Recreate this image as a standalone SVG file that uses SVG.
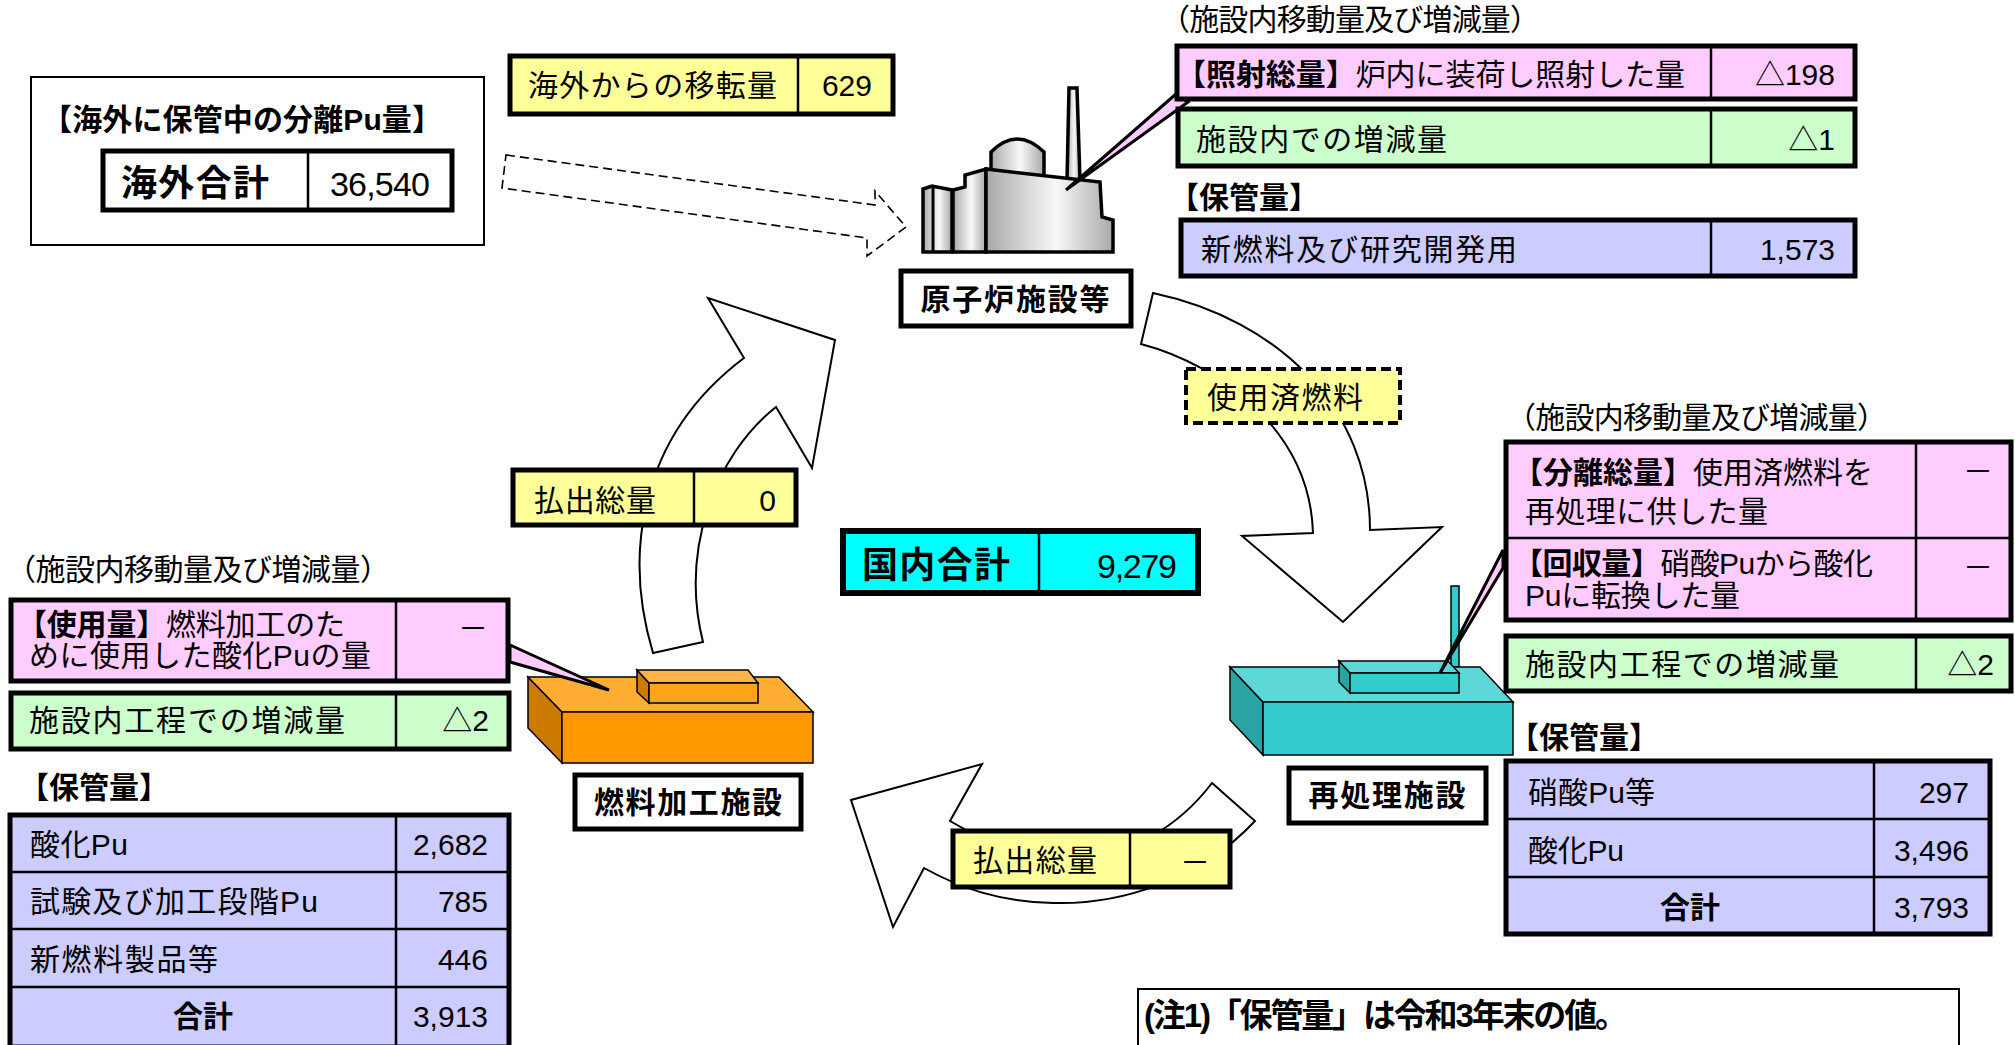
<svg xmlns="http://www.w3.org/2000/svg" width="2015" height="1045" viewBox="0 0 2015 1045">
<defs>
<style>
.t{font-family:"Liberation Sans","Noto Sans CJK JP",sans-serif;font-size:30px;fill:#000}
.b{font-weight:bold}
.e{text-anchor:end}
.m{text-anchor:middle}
.big{font-size:36px}
.num{font-size:34px}
.thick{stroke:#000;stroke-width:5}
.thin{stroke:#000;stroke-width:2.5;fill:none}
.arrow{fill:#fff;stroke:#000;stroke-width:2}
.blk{stroke:#000;stroke-width:1.5}
.bld{stroke:#000;stroke-width:3.5;fill:url(#gr)}
.wedge{stroke:#000;stroke-width:3;fill:#FFCCFF}
.pink{fill:#FFCCFF}
.green{fill:#CCFFCC}
.blue{fill:#CCCCFF}
.yellow{fill:#FFFF99}
.lbl{fill:#fff;stroke:#000;stroke-width:5}
</style>
<linearGradient id="gr" x1="0" y1="0" x2="1" y2="0">
<stop offset="0" stop-color="#a8a8a8"/>
<stop offset="0.55" stop-color="#f8f8f8"/>
<stop offset="1" stop-color="#a8a8a8"/>
</linearGradient>
</defs>
<rect width="2015" height="1045" fill="#fff"/>

<g id="connectors">
<path class="arrow" d="M653,653 C625,560 635,440 744,358 L708,298 L835,340 L812,468 L776,407 C715,455 680,550 703,642 Z"/>
<path class="arrow" d="M1153,293 C1280,320 1370,410 1370,530 L1442,527 L1343,622 L1242,536 L1313,533 C1310,430 1220,365 1141,344 Z"/>
<path class="arrow" d="M1255,821 C1200,880 1120,905 1053,903 C1000,902 960,888 924,868 L893,927 L851,800 L982,764 L950,821 C990,845 1030,858 1070,858 C1130,858 1180,825 1212,783 Z"/>
<path d="M506,155 L875,205 L875,191 L906,227 L867,256 L867,238 L502,188 Z" fill="none" stroke="#000" stroke-width="1.6" stroke-dasharray="9,5"/>
</g>

<g id="reactor">
<polygon class="bld" points="1069,88 1077,88 1080,180 1067,180"/>
<path class="bld" d="M991,174 L991,152 Q1017,126 1044,152 L1044,178 Z"/>
<polygon class="bld" points="923,189 932,186 952,190 952,252 923,252"/>
<line x1="933" y1="188" x2="933" y2="252" stroke="#000" stroke-width="3"/>
<polygon class="bld" points="953,190 965,187 965,175 986,169 986,252 953,252"/>
<polygon class="bld" points="986,169 1100,182 1102,217 1113,220 1113,252 986,252"/>
<rect class="lbl" x="901" y="271" width="230" height="55"/>
<text class="t b m" x="1015" y="310" textLength="189">原子炉施設等</text>
</g>

<g id="fuel-fabrication">
<polygon class="blk" points="528,677 562,712 562,763 528,728" fill="#CC7A00"/>
<polygon class="blk" points="528,677 779,677 813,712 562,712" fill="#FFAD33"/>
<rect class="blk" x="562" y="712" width="251" height="51" fill="#FF9900"/>
<polygon class="blk" points="637,670 649,683 649,703 637,692" fill="#CC7A00"/>
<polygon class="blk" points="637,670 748,670 758,683 649,683" fill="#FFB347"/>
<rect class="blk" x="649" y="683" width="109" height="20" fill="#FFA31A"/>
<rect class="lbl" x="575" y="775" width="226" height="54"/>
<text class="t b m" x="688" y="813" textLength="188">燃料加工施設</text>
</g>

<g id="reprocessing">
<rect class="blk" x="1451" y="586" width="8" height="81" fill="#33CCCC"/>
<polygon class="blk" points="1230,667 1263,702 1263,755 1230,720" fill="#29A3A3"/>
<polygon class="blk" points="1230,667 1480,667 1513,702 1263,702" fill="#5CD6D6"/>
<rect class="blk" x="1263" y="702" width="250" height="53" fill="#33CCCC"/>
<polygon class="blk" points="1339,661 1350,673 1350,693 1339,682" fill="#29A3A3"/>
<polygon class="blk" points="1339,661 1448,661 1459,673 1350,673" fill="#5CD6D6"/>
<rect class="blk" x="1350" y="673" width="109" height="20" fill="#33CCCC"/>
<rect class="lbl" x="1289" y="768" width="197" height="55"/>
<text class="t b m" x="1387" y="806" textLength="157">再処理施設</text>
</g>

<g id="callouts">
<polygon class="wedge" points="1176,94 1188,102 1066,190"/>
<polygon class="wedge" points="1503,550 1503,568 1440,673"/>
<polygon class="wedge" points="510,645 510,662 609,690"/>
</g>

<g id="overseas">
<rect x="31" y="77" width="453" height="168" fill="#fff" stroke="#000" stroke-width="2"/>
<text class="t b" x="42" y="130" textLength="400">【海外に保管中の分離Pu量】</text>
<rect x="103" y="151" width="349" height="59" fill="#fff" class="thick"/>
<line class="thin" x1="308" y1="151" x2="308" y2="210"/>
<text class="t b big" x="121" y="196" textLength="148">海外合計</text>
<text class="t e num" x="430" y="196" textLength="100">36,540</text>
</g>

<g id="transfer">
<rect x="510" y="56" width="383" height="58" class="thick yellow"/>
<line class="thin" x1="798" y1="56" x2="798" y2="114"/>
<text class="t" x="528" y="96" textLength="249">海外からの移転量</text>
<text class="t e" x="872" y="96">629</text>
</g>

<g id="reactor-tables">
<text class="t" x="1160" y="30" textLength="380">（施設内移動量及び増減量）</text>
<rect x="1177" y="46" width="678" height="53" class="thick pink"/>
<line class="thin" x1="1711" y1="46" x2="1711" y2="99"/>
<text class="t" x="1176" y="85" textLength="509"><tspan class="b">【照射総量】</tspan>炉内に装荷し照射した量</text>
<text class="t e" x="1835" y="85">△198</text>
<rect x="1178" y="109" width="677" height="57" class="thick green"/>
<line class="thin" x1="1711" y1="109" x2="1711" y2="166"/>
<text class="t" x="1196" y="150" textLength="251">施設内での増減量</text>
<text class="t e" x="1835" y="150">△1</text>
<text class="t b" x="1169" y="208">【保管量】</text>
<rect x="1181" y="220" width="674" height="56" class="thick blue"/>
<line class="thin" x1="1711" y1="220" x2="1711" y2="276"/>
<text class="t" x="1201" y="260" textLength="316">新燃料及び研究開発用</text>
<text class="t e" x="1835" y="260">1,573</text>
</g>

<g id="spent-fuel">
<rect x="1186" y="369" width="214" height="54" class="yellow" stroke="#000" stroke-width="4" stroke-dasharray="10,5"/>
<text class="t" x="1207" y="408" textLength="156">使用済燃料</text>
</g>

<g id="reprocessing-tables">
<text class="t" x="1506" y="428" textLength="381">（施設内移動量及び増減量）</text>
<rect x="1506" y="442" width="505" height="178" class="thick pink"/>
<line class="thin" x1="1506" y1="538" x2="2011" y2="538"/>
<line class="thin" x1="1916" y1="442" x2="1916" y2="620"/>
<text class="t" x="1513" y="483" textLength="360"><tspan class="b">【分離総量】</tspan>使用済燃料を</text>
<text class="t" x="1525" y="522" textLength="243">再処理に供した量</text>
<text class="t m" x="1978" y="482">－</text>
<text class="t" x="1513" y="574" textLength="360"><tspan class="b">【回収量】</tspan>硝酸Puから酸化</text>
<text class="t" x="1525" y="606" textLength="215">Puに転換した量</text>
<text class="t m" x="1978" y="578">－</text>
<rect x="1506" y="636" width="505" height="55" class="thick green"/>
<line class="thin" x1="1916" y1="636" x2="1916" y2="691"/>
<text class="t" x="1525" y="675" textLength="314">施設内工程での増減量</text>
<text class="t e" x="1994" y="675">△2</text>
<text class="t b" x="1509" y="748">【保管量】</text>
<rect x="1506" y="761" width="484" height="173" class="thick blue"/>
<line class="thin" x1="1874" y1="761" x2="1874" y2="934"/>
<line class="thin" x1="1506" y1="819" x2="1990" y2="819"/>
<line class="thin" x1="1506" y1="877" x2="1990" y2="877"/>
<text class="t" x="1528" y="803" textLength="127">硝酸Pu等</text>
<text class="t e" x="1969" y="803">297</text>
<text class="t" x="1528" y="861" textLength="96">酸化Pu</text>
<text class="t e" x="1969" y="861">3,496</text>
<text class="t b m" x="1690" y="918">合計</text>
<text class="t e" x="1969" y="918">3,793</text>
</g>

<g id="fuel-fabrication-tables">
<text class="t" x="6" y="580" textLength="384">（施設内移動量及び増減量）</text>
<rect x="11" y="600" width="497" height="81" class="thick pink"/>
<line class="thin" x1="396" y1="600" x2="396" y2="681"/>
<text class="t" x="17" y="635" textLength="328"><tspan class="b">【使用量】</tspan>燃料加工のた</text>
<text class="t" x="29" y="666" textLength="342">めに使用した酸化Puの量</text>
<text class="t m" x="473" y="639">－</text>
<rect x="11" y="693" width="498" height="56" class="thick green"/>
<line class="thin" x1="396" y1="693" x2="396" y2="749"/>
<text class="t" x="29" y="731" textLength="316">施設内工程での増減量</text>
<text class="t e" x="489" y="731">△2</text>
<text class="t b" x="19" y="798">【保管量】</text>
<rect x="10" y="815" width="499" height="232" class="thick blue"/>
<line class="thin" x1="396" y1="815" x2="396" y2="1047"/>
<line class="thin" x1="10" y1="872" x2="509" y2="872"/>
<line class="thin" x1="10" y1="929" x2="509" y2="929"/>
<line class="thin" x1="10" y1="987" x2="509" y2="987"/>
<text class="t" x="30" y="855" textLength="98">酸化Pu</text>
<text class="t e" x="488" y="855">2,682</text>
<text class="t" x="30" y="912" textLength="288">試験及び加工段階Pu</text>
<text class="t e" x="488" y="912">785</text>
<text class="t" x="30" y="970" textLength="188">新燃料製品等</text>
<text class="t e" x="488" y="970">446</text>
<text class="t b m" x="203" y="1027">合計</text>
<text class="t e" x="488" y="1027">3,913</text>
</g>

<g id="shipment-left">
<rect x="513" y="470" width="283" height="55" class="thick yellow"/>
<line class="thin" x1="694" y1="470" x2="694" y2="525"/>
<text class="t" x="534" y="511" textLength="122">払出総量</text>
<text class="t e" x="776" y="511">0</text>
</g>

<g id="domestic-total">
<rect x="843" y="531" width="355" height="62" fill="#00FFFF" stroke="#000" stroke-width="6"/>
<line class="thin" x1="1039" y1="531" x2="1039" y2="593"/>
<text class="t b big" x="862" y="578" textLength="148">国内合計</text>
<text class="t e num" x="1177" y="578" textLength="80">9,279</text>
</g>

<g id="shipment-bottom">
<rect x="953" y="831" width="277" height="56" class="thick yellow"/>
<line class="thin" x1="1130" y1="831" x2="1130" y2="887"/>
<text class="t" x="973" y="871" textLength="124">払出総量</text>
<text class="t m" x="1195" y="873">－</text>
</g>

<g id="note">
<rect x="1138" y="989" width="821" height="70" fill="#fff" stroke="#000" stroke-width="2"/>
<text class="t b" x="1144" y="1027" style="font-size:33px" textLength="484">(注1)「保管量」は令和3年末の値。</text>
</g>
</svg>
